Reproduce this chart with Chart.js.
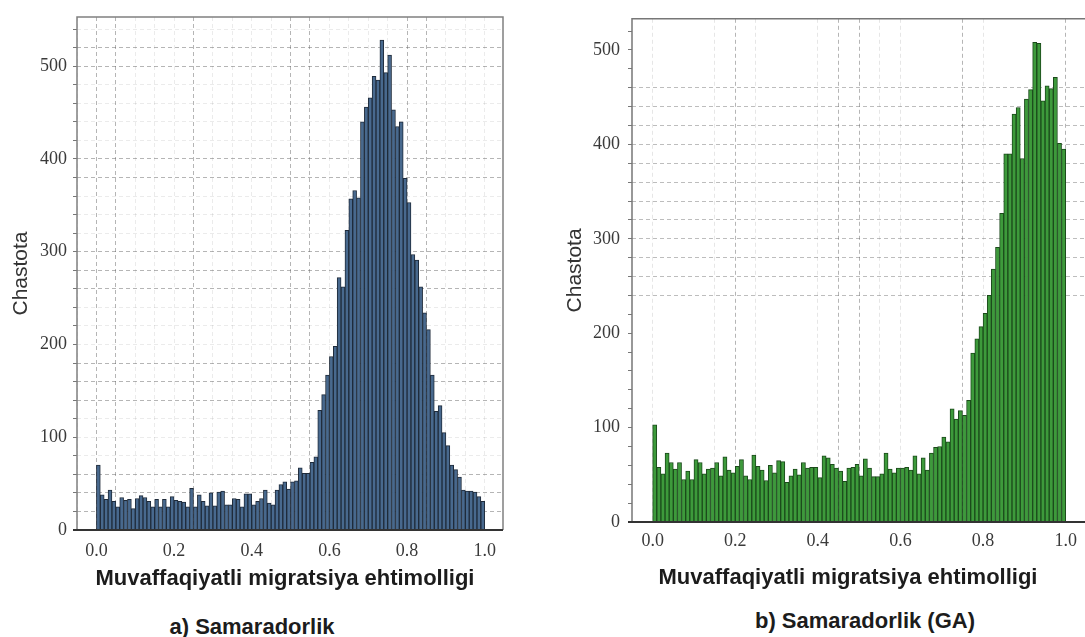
<!DOCTYPE html>
<html lang="uz">
<head>
<meta charset="UTF-8">
<title>Samaradorlik</title>
<script src="https://cdn.jsdelivr.net/npm/chart.js"></script>
<style>
  body { margin: 0; width: 1085px; height: 637px; overflow: hidden; background: #fff; position: relative;
         font-family: "Liberation Sans", Arial, sans-serif; }
  .box { position: absolute; top: 0; height: 600px; }
  #boxA { left: 0; width: 520px; }
  #boxB { left: 560px; width: 560px; }
  .lbl { position: absolute; font-weight: bold; font-size: 22px; color: #1c1c1c; white-space: nowrap;
         transform: translate(-50%, -50%); }
</style>
</head>
<body>

<div class="box" id="boxA"><canvas id="chartA"></canvas></div>
<div class="box" id="boxB"><canvas id="chartB"></canvas></div>

<div class="lbl" style="left:285px; top:578px;">Muvaffaqiyatli migratsiya ehtimolligi</div>
<div class="lbl" style="left:252px; top:627px;">a) Samaradorlik</div>
<div class="lbl" style="left:848px; top:577px;">Muvaffaqiyatli migratsiya ehtimolligi</div>
<div class="lbl" style="left:865px; top:621px;">b) Samaradorlik (GA)</div>

<script>
  // histogram: 100 bins of width 0.01 on [0, 1]
  const binWidth = 0.01;

  // a) Samaradorlik
  const countsA = [
    70, 38, 33, 43, 31, 25, 35, 32, 33, 23,
    34, 37, 35, 31, 25, 33, 25, 33, 25, 36,
    32, 31, 30, 25, 45, 25, 38, 31, 26, 40,
    26, 41, 42, 27, 27, 34, 33, 25, 39, 39,
    27, 31, 34, 43, 29, 27, 43, 49, 52, 44,
    52, 53, 67, 61, 61, 73, 79, 129, 146, 167,
    187, 198, 272, 262, 323, 357, 366, 358, 440, 456,
    466, 489, 485, 528, 493, 512, 453, 435, 440, 379,
    353, 297, 291, 262, 234, 216, 167, 128, 134, 105,
    91, 70, 65, 57, 43, 42, 42, 41, 36, 31
  ];

  // b) Samaradorlik (GA)
  const countsB = [
    103, 58, 51, 73, 63, 56, 63, 45, 54, 45,
    66, 63, 51, 56, 57, 63, 49, 69, 55, 52,
    59, 66, 49, 45, 71, 59, 55, 44, 60, 52,
    65, 64, 42, 49, 56, 50, 63, 57, 58, 58,
    47, 70, 68, 61, 57, 54, 43, 57, 58, 61,
    49, 67, 57, 48, 48, 51, 73, 56, 52, 57,
    57, 58, 55, 70, 51, 68, 55, 73, 79, 80,
    90, 85, 120, 109, 118, 113, 129, 179, 194, 207,
    221, 240, 268, 291, 327, 390, 390, 432, 439, 385,
    448, 458, 508, 507, 446, 462, 459, 471, 401, 395
  ];

  const xTickLabels = [0, 0.2, 0.4, 0.6, 0.8, 1.0];
  const yTickLabels = [0, 100, 200, 300, 400, 500];

  // which grid lines show up darker in each panel (styling only)
  const gridA_x = [0, 0.05, 0.25, 0.5, 0.55, 0.8, 0.85];
  const gridA_y = [20, 40, 60, 140, 160, 180, 260, 280, 300, 380, 400, 500, 520];
  const gridB_x = [0.2, 0.45, 0.5, 0.75, 1.0];
  const gridB_xFaint = [0, 0.15, 0.25, 0.4, 0.55, 0.6, 0.8];

  function toPoints(counts) {
    return counts.map((v, i) => ({ x: binWidth * (i + 0.5), y: v }));
  }

  function near(list, v) {
    return list.some(t => Math.abs(t - v) < 1e-6);
  }

  const framePlugin = {
    id: 'frame',
    afterDatasetsDraw(chart, args, opts) {
      const ctx = chart.ctx;
      const a = chart.chartArea;
      ctx.save();
      ctx.lineWidth = 1.5;
      ctx.strokeStyle = opts.edge;
      ctx.beginPath();
      ctx.moveTo(a.left, a.bottom);
      ctx.lineTo(a.left, a.top);
      ctx.lineTo(a.right, a.top);
      ctx.lineTo(a.right, a.bottom);
      ctx.stroke();
      ctx.lineWidth = 2;
      ctx.strokeStyle = opts.base;
      ctx.beginPath();
      ctx.moveTo(a.left - 4, a.bottom);
      ctx.lineTo(a.right, a.bottom);
      ctx.stroke();
      ctx.restore();
    }
  };

  const tickFont = { family: '"Liberation Serif", "DejaVu Serif", serif', size: 18 };

  function makeChart(id, counts, cfg) {
    const ctx = document.getElementById(id).getContext('2d');
    return new Chart(ctx, {
      type: 'bar',
      data: {
        datasets: [{
          data: toPoints(counts),
          backgroundColor: cfg.fill,
          borderColor: cfg.edge,
          borderWidth: 1,
          categoryPercentage: 1.0,
          barPercentage: 1.0
        }]
      },
      options: {
        responsive: true,
        maintainAspectRatio: false,
        animation: false,
        layout: { padding: { top: 17, right: cfg.padRight, left: 0, bottom: 0 } },
        plugins: {
          legend: { display: false },
          tooltip: { enabled: false },
          frame: { edge: cfg.frameEdge, base: '#333' }
        },
        scales: {
          x: {
            type: 'linear',
            offset: false,
            min: -0.05,
            max: cfg.xMax,
            grid: {
              offset: false,
              drawTicks: false,
              color: c => cfg.xGrid(c.tick.value),
              lineWidth: 1
            },
            border: { display: false, dash: [4, 3] },
            ticks: {
              stepSize: 0.05,
              includeBounds: false,
              autoSkip: false,
              maxRotation: 0,
              padding: cfg.xPad,
              color: '#3a3a3a',
              font: tickFont,
              callback: v => near(xTickLabels, v) ? v.toFixed(1) : ''
            },
            afterFit: s => { s.height = cfg.xHeight; }
          },
          y: {
            min: 0,
            max: cfg.yMax,
            grid: {
              drawTicks: true,
              tickLength: 4,
              tickColor: '#777',
              color: c => cfg.yGrid(c.tick.value),
              lineWidth: 1
            },
            border: { display: false, dash: [4, 3] },
            ticks: {
              stepSize: 20,
              includeBounds: false,
              autoSkip: false,
              padding: cfg.yPad,
              color: '#3a3a3a',
              font: tickFont,
              callback: v => near(yTickLabels, v) ? v : ''
            },
            title: {
              display: true,
              text: 'Chastota',
              color: '#333',
              font: { family: '"Liberation Sans", Arial, sans-serif', size: 21 },
              padding: { top: cfg.yTitlePad, bottom: 0 }
            },
            afterFit: s => { s.width = cfg.yWidth; }
          }
        }
      },
      plugins: [framePlugin]
    });
  }

  makeChart('chartA', countsA, {
    fill: '#48698e',
    edge: '#1f2b3a',
    frameEdge: '#808080',
    padRight: 17,
    xMax: 1.047,
    yMax: 553,
    xHeight: 70,
    xPad: 10,
    yWidth: 77,
    yPad: 6,
    yTitlePad: 9,
    xGrid: v => near(gridA_x, v) ? 'rgba(90,90,90,0.45)' : 'rgba(90,90,90,0.12)',
    yGrid: v => {
      if (near(gridA_y, v)) return 'rgba(90,90,90,0.45)';
      if (Math.abs(v / 20 - Math.round(v / 20)) < 1e-6 && v > 0) return 'rgba(90,90,90,0.12)';
      return 'rgba(0,0,0,0)';
    }
  });

  makeChart('chartB', countsB, {
    fill: '#3d9a3b',
    edge: '#1b4a1b',
    frameEdge: '#777',
    padRight: 13,
    xMax: 1.1,
    yMax: 533,
    xHeight: 78,
    xPad: 8,
    yWidth: 72,
    yPad: 8,
    yTitlePad: 3,
    xGrid: v => {
      if (near(gridB_x, v)) return 'rgba(90,90,90,0.45)';
      if (near(gridB_xFaint, v)) return 'rgba(90,90,90,0.15)';
      return 'rgba(0,0,0,0)';
    },
    yGrid: v => (v >= 240 && v <= 460 && Math.abs(v / 20 - Math.round(v / 20)) < 1e-6)
      ? 'rgba(90,90,90,0.4)' : 'rgba(0,0,0,0)'
  });
</script>

</body>
</html>
